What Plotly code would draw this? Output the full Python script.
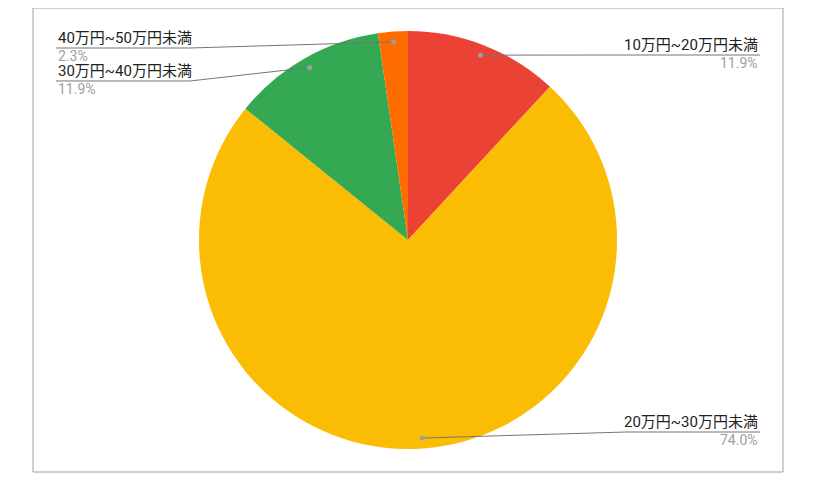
import math
import plotly.graph_objects as go

# data
labels = ["10万円~20万円未満", "20万円~30万円未満", "30万円~40万円未満", "40万円~50万円未満"]
values = [11.9, 74.0, 11.9, 2.3]
colors = ["#EA4335", "#FBBC04", "#34A853", "#FF6D01"]

# layout constants (pixels in the 819x489 window; the page has an 8px body margin)
OFF = 8
W, H = 819 - 2 * OFF, 489 - 2 * OFF
CX, CY, R = 408, 240, 209
LINE_Y = [55, 432, 81, 48]       # y of the line under each label
RIGHT_X, LEFT_X = 760, 56        # outer text edges
LABEL_W = 134
FONT = "Roboto, 'Noto Sans CJK JP', sans-serif"


def px(x, y):
    return (x - OFF) / W, 1 - (y - OFF) / H


x0, y0 = px(CX - R, CY + R)
x1, y1 = px(CX + R, CY - R)

fig = go.Figure(go.Pie(
    labels=labels, values=values, sort=False, direction="clockwise", rotation=0,
    marker=dict(colors=colors, line=dict(width=0)),
    textinfo="none", hoverinfo="label+percent",
    domain=dict(x=[x0, x1], y=[y0, y1]),
))

shapes, annots = [], []
total = sum(values)
cum = 0
for lab, v, ly in zip(labels, values, LINE_Y):
    th = 2 * math.pi * (cum + v / 2) / total
    cum += v
    dx, dy = CX + 0.95 * R * math.sin(th), CY - 0.95 * R * math.cos(th)
    right = math.sin(th) >= 0
    if right:
        ex, end = RIGHT_X - LABEL_W, RIGHT_X
    else:
        ex, end = LEFT_X + LABEL_W, LEFT_X
    pts = [(dx, dy), (ex, ly), (end, ly)]
    path = "M " + " L ".join("%f,%f" % px(*p) for p in pts)
    shapes.append(dict(type="path", path=path, xref="paper", yref="paper",
                       line=dict(color="#757575", width=1)))
    cx0, cy0 = px(dx - 2.5, dy + 2.5)
    cx1, cy1 = px(dx + 2.5, dy - 2.5)
    shapes.append(dict(type="circle", xref="paper", yref="paper", x0=cx0, y0=cy0, x1=cx1, y1=cy1,
                       fillcolor="#9e9e9e", line=dict(width=0)))
    ax, _ = px(end, ly)
    anchor = "right" if right else "left"
    annots.append(dict(x=ax, y=px(end, ly - 10)[1], text=lab, showarrow=False, xref="paper", yref="paper",
                       xanchor=anchor, yanchor="middle", font=dict(family=FONT, size=15, color="#222222")))
    annots.append(dict(x=ax, y=px(end, ly + 8)[1], text="%.1f%%" % v, showarrow=False, xref="paper",
                       yref="paper", xanchor=anchor, yanchor="middle",
                       font=dict(family=FONT, size=14, color="#9e9e9e")))

bx0, by0 = px(33, 472)
bx1, by1 = px(783, 8)
shapes.append(dict(type="rect", xref="paper", yref="paper", x0=bx0, y0=by0, x1=bx1, y1=by1,
                   line=dict(color="#9e9e9e", width=1)))

fig.update_layout(
    width=W, height=H, margin=dict(l=0, r=0, t=0, b=0),
    showlegend=False, paper_bgcolor="white",
    shapes=shapes, annotations=annots,
)
fig.write_html("out.html")
